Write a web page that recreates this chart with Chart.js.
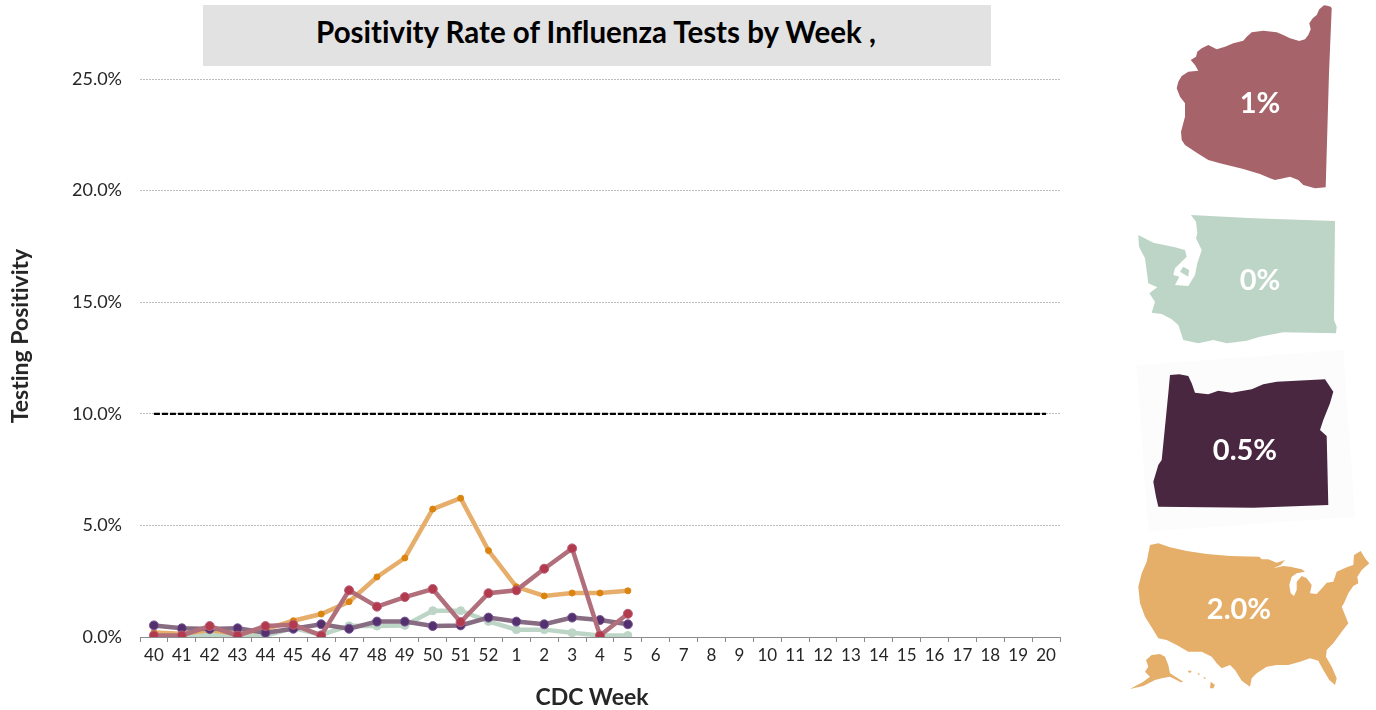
<!DOCTYPE html>
<html><head><meta charset="utf-8">
<style>
html,body{margin:0;padding:0;background:#fff;width:1376px;height:710px;overflow:hidden}
#wrap{position:relative;width:1376px;height:710px}
canvas{position:absolute;left:0;top:0}
#title{position:absolute;left:203px;top:5px;width:788px;height:61px;background:#e2e2e2;color:#000;font:700 29.5px Lato,sans-serif;line-height:53px;text-align:center;box-sizing:border-box;padding-right:2px}
#title,svg text{font-variant-ligatures:none}
svg{position:absolute;left:0;top:0}
</style></head><body>
<div id="wrap">
<canvas id="c" width="1376" height="710"></canvas>
<div id="title">Positivity Rate of Influenza Tests by Week ,</div>
<svg id="s" width="1376" height="710" xmlns="http://www.w3.org/2000/svg"></svg>
</div>
<script src="https://cdn.jsdelivr.net/npm/chart.js@4/dist/chart.umd.min.js"></script>
<script>
const weeks = ["40","41","42","43","44","45","46","47","48","49","50","51","52","1","2","3","4","5","6","7","8","9","10","11","12","13","14","15","16","17","18","19","20"];
const usValues = [0.2,0.15,0.3,0.15,0.35,0.73,1.03,1.58,2.69,3.54,5.73,6.22,3.87,2.25,1.84,1.97,1.97,2.07];
const idahoValues = [0.07,0.07,0.49,0.06,0.49,0.55,0.07,2.09,1.36,1.79,2.15,0.67,1.96,2.09,3.06,3.97,0.07,1.04];
const oregonValues = [0.52,0.39,0.36,0.39,0.19,0.37,0.57,0.37,0.69,0.69,0.49,0.52,0.87,0.69,0.57,0.87,0.76,0.57];
const washingtonValues = [0.1,0.1,0.1,0.1,0.06,0.4,0.1,0.5,0.49,0.52,1.18,1.18,0.7,0.33,0.33,0.19,0.07,0.07];
const thresholdValues = weeks.map(() => 10);
const yTicks = [0,5,10,15,20,25];

const FONT = "Lato, sans-serif";
function series(label,data,line,point,edge,radius){
  return {label,data,borderColor:line,borderWidth:4.5,pointRadius:radius,pointHoverRadius:radius,
    pointBackgroundColor:point,pointBorderColor:edge,pointBorderWidth:1,tension:0,spanGaps:false,fill:false};
}
new Chart(document.getElementById('c'),{
  type:'line',
  data:{labels:weeks,datasets:[
    series('Idaho',idahoValues,'rgba(176,111,122,1)','#b23a4c','#b8607a',4.5),
    series('Oregon',oregonValues,'rgba(135,108,130,1)','#54306e','#7a5a95',4.5),
    series('United States',usValues,'rgba(230,174,106,1)','#dc8410','#dc8410',3),
    series('Washington',washingtonValues,'rgba(189,213,198,1)','#bdd5c6','#bdd5c6',4),
    {label:'Threshold',data:thresholdValues,borderColor:'#000',borderWidth:2.2,borderDash:[6,2],pointRadius:0,fill:false}
  ]},
  options:{
    responsive:false,animation:false,devicePixelRatio:1,
    layout:{padding:{left:0,right:316,top:79,bottom:0}},
    plugins:{legend:{display:false},title:{display:false},tooltip:{enabled:false}},
    scales:{
      x:{type:'category',offset:true,
        afterFit(s){s.height=73;},
        border:{display:true,color:'#8c8c8c',width:1},
        grid:{display:true,offset:true,drawOnChartArea:false,drawTicks:true,tickLength:5,color:'#8c8c8c'},
        ticks:{autoSkip:false,maxRotation:0,minRotation:0,padding:3,color:'#262626',font:{family:FONT,size:17}}
      },
      y:{min:0,max:25,
        afterFit(s){s.width=140;},
        afterBuildTicks(s){s.ticks=yTicks.map(v=>({value:v}));},
        border:{display:false,dash:[2,1]},
        grid:{color:'#bcbcbc',lineWidth:1,drawTicks:false},
        ticks:{padding:18,color:'#262626',font:{family:FONT,size:18},callback:v=>v.toFixed(1)+'%'}
      }
    }
  }
});

const NS='http://www.w3.org/2000/svg', svg=document.getElementById('s');
function shape(ox,oy,fill,polys,rule){
  const p=document.createElementNS(NS,'path');
  p.setAttribute('d',polys.map(q=>'M'+q.map(a=>(ox+a[0]/3).toFixed(1)+' '+(oy+a[1]/3).toFixed(1)).join('L')+'Z').join(' '));
  p.setAttribute('fill',fill);
  if(rule)p.setAttribute('fill-rule',rule);
  svg.appendChild(p);
}
function text(x,y,str,size,weight,fill,rot){
  const t=document.createElementNS(NS,'text');
  t.setAttribute('x',x);t.setAttribute('y',y);t.setAttribute('text-anchor','middle');
  t.setAttribute('font-family',FONT);t.setAttribute('font-size',size);t.setAttribute('font-weight',weight);t.setAttribute('fill',fill);
  if(rot)t.setAttribute('transform','rotate('+rot+' '+x+' '+y+')');
  t.textContent=str;svg.appendChild(t);
}
shape(1120,0,'#a6636a',[[[632,20],[622,17],[612,16],[598,28],[590,45],[578,55],[568,70],[572,88],[565,105],[555,118],[538,123],[510,115],[490,105],[470,97],[430,92],[395,97],[380,110],[370,122],[340,130],[315,140],[290,148],[265,135],[245,145],[232,155],[228,170],[212,180],[225,195],[235,212],[205,215],[185,228],[175,245],[170,265],[180,290],[195,310],[195,350],[183,395],[185,420],[195,435],[230,458],[265,480],[300,490],[370,507],[420,522],[450,535],[465,540],[490,535],[510,530],[535,540],[550,555],[585,565],[617,562],[627,220],[635,25]]]);
shape(1120,0,'#bdd5c6',[[[55,705],[57,740],[75,775],[85,850],[112,862],[88,880],[105,905],[95,938],[125,942],[155,958],[175,975],[190,1020],[235,1030],[280,1020],[320,1030],[380,1022],[420,1010],[490,997],[648,1000],[650,980],[642,960],[645,663],[400,655],[213,645],[228,665],[232,700],[228,715],[245,750],[232,790],[225,825],[205,858],[165,855],[178,830],[160,825],[165,805],[200,770],[195,750],[165,742],[100,728]],[[190,800],[180,815],[205,830],[207,810]]],'evenodd');
shape(1120,350,'#fcfcfc',[[[50,45],[670,0],[705,500],[85,545]]]);
shape(1120,350,'#4a2740',[[[150,75],[178,73],[205,78],[215,100],[225,128],[265,133],[295,122],[335,128],[395,118],[430,103],[470,95],[615,88],[640,125],[630,160],[610,210],[600,240],[620,258],[625,465],[400,473],[115,470],[108,440],[100,395],[115,345],[125,330],[135,230],[145,130]]]);
shape(1120,350,'#e5ae69',[
 [[90,585],[115,580],[150,592],[200,603],[260,612],[330,618],[418,620],[425,628],[445,628],[470,638],[495,630],[482,645],[460,655],[490,648],[510,650],[545,658],[555,665],[530,670],[515,680],[508,705],[512,730],[522,738],[530,720],[530,695],[545,678],[560,685],[575,705],[570,730],[590,732],[610,710],[620,698],[640,695],[650,665],[680,652],[700,645],[702,615],[722,603],[735,625],[748,640],[725,660],[712,680],[715,700],[700,708],[685,730],[672,760],[665,770],[675,795],[685,820],[665,845],[640,880],[620,900],[618,920],[635,950],[650,985],[645,1005],[628,990],[610,960],[595,932],[570,925],[540,935],[505,945],[470,945],[440,950],[410,970],[395,985],[390,1010],[365,992],[345,960],[330,945],[305,955],[290,940],[275,920],[245,905],[205,905],[170,885],[140,870],[115,865],[100,840],[75,800],[60,760],[55,710],[65,670],[80,635]],
 [[95,915],[120,912],[135,920],[145,945],[150,970],[190,995],[183,997],[150,980],[125,985],[105,990],[70,1008],[30,1017],[70,995],[90,980],[75,965],[85,950],[78,930]],
 [[205,962],[215,962],[212,968],[204,967]],[[232,968],[240,972],[236,976]],[[250,980],[258,984],[254,988]],[[272,995],[285,1005],[280,1015],[270,1015]]
]);
text(1260,113,'1%',29,700,'#fff');
text(1260,290,'0%',29,700,'#fff');
text(1245,460,'0.5%',29,700,'#fff');
text(1239,619,'2.0%',29,700,'#fff');
text(28,336,'Testing Positivity',23,700,'#262626',-90);
text(592,705,'CDC Week',23,700,'#262626');
</script>
</body></html>
